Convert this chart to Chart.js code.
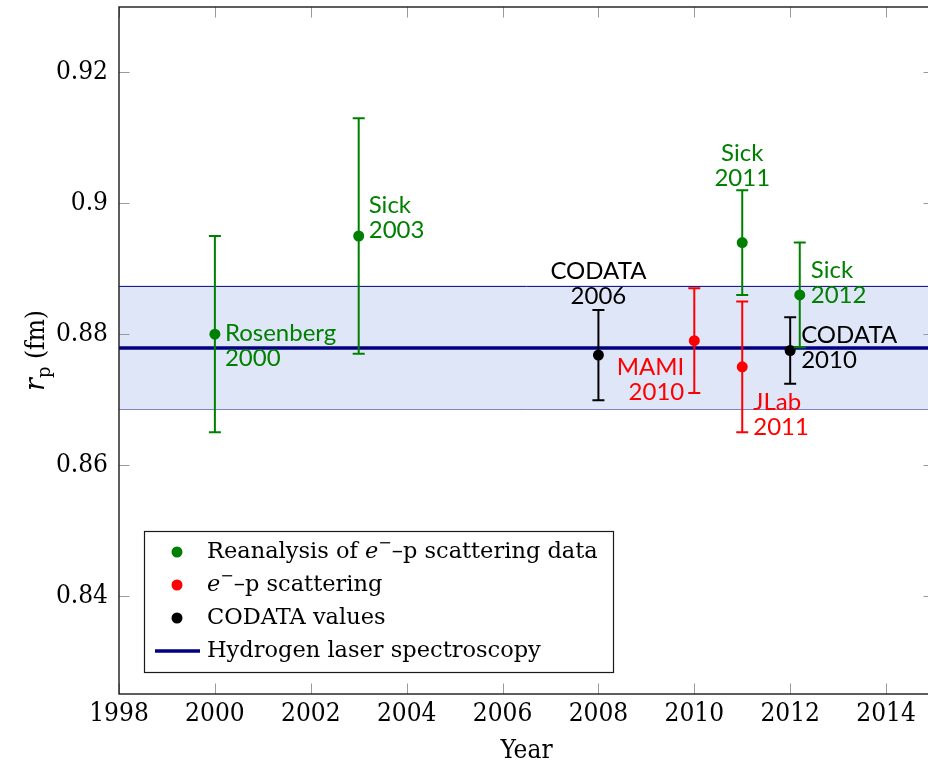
<!DOCTYPE html>
<html>
<head>
<meta charset="utf-8">
<script src="https://cdn.jsdelivr.net/npm/chart.js@4/dist/chart.umd.min.js"></script>
<style>
  html, body { margin: 0; padding: 0; overflow: hidden; background: #fff; }
  canvas { display: block; }
</style>
</head>
<body>
<canvas id="chart" width="940" height="769"></canvas>
<script>
// Axis ticks
const xTicks = [1998, 2000, 2002, 2004, 2006, 2008, 2010, 2012, 2014];
const yTicks = [0.84, 0.86, 0.88, 0.9, 0.92];
const yearRange = [1998, 2015];
const radiusRange = [0.825, 0.93];

// Reanalysis of e-p scattering data
const reanalysisYears = [2000, 2003, 2011, 2012.2];
const reanalysisRadius = [0.880, 0.895, 0.894, 0.886];
const reanalysisError = [0.015, 0.018, 0.008, 0.008];
const reanalysisNames = ['Rosenberg\n2000', 'Sick\n2003', 'Sick\n2011', 'Sick\n2012'];

// e-p scattering experiments
const scatteringYears = [2010, 2011];
const scatteringRadius = [0.879, 0.875];
const scatteringError = [0.008, 0.010];
const scatteringNames = ['MAMI\n2010', 'JLab\n2011'];

// CODATA recommended values
const codataYears = [2008, 2012];
const codataRadius = [0.8768, 0.8775];
const codataError = [0.0069, 0.0051];
const codataNames = ['CODATA\n2006', 'CODATA\n2010'];

// Hydrogen laser spectroscopy
const hydrogenRadius = 0.8779;
const hydrogenError = 0.0094;

// Legend text, split into runs: [text, style]
const legendLabels = [
  [['Reanalysis of ', ''], ['e', 'italic'], ['\u2212', 'sup'], ['\u2013p scattering data', '']],
  [['e', 'italic'], ['\u2212', 'sup'], ['\u2013p scattering', '']],
  [['CODATA values', '']],
  [['Hydrogen laser spectroscopy', '']]
];

// Label placement next to each point: [dx, dy, align]
const reanalysisLabelPos = [[10, -1, 'left'], [10, -31, 'left'], [0, -89, 'center'], [11, -25, 'left']];
const scatteringLabelPos = [[-10, 27, 'right'], [11, 35, 'left']];
const codataLabelPos = [[0, -84, 'center'], [11, -15, 'left']];

const GREEN = '#008000', RED = '#ff0000', BLACK = '#000000', NAVY = '#000080';
const BAND = '#dfe6f8';
const SERIF = '"DejaVu Serif"';
const SERIF_NARROW = '"DejaVu Serif Condensed", "DejaVu Serif"';
const SANS = 'Lato';

const pts = (xs, ys) => xs.map((x, i) => ({ x: x, y: ys[i] }));

function pointSeries(label, xs, ys, errs, names, pos, color) {
  return {
    type: 'scatter', label: label, data: pts(xs, ys),
    errors: errs, names: names, labelPos: pos,
    borderColor: color, backgroundColor: color,
    pointRadius: 5.5, pointBorderWidth: 0, order: 0
  };
}

const datasets = [
  pointSeries('Reanalysis', reanalysisYears, reanalysisRadius, reanalysisError, reanalysisNames, reanalysisLabelPos, GREEN),
  pointSeries('Scattering', scatteringYears, scatteringRadius, scatteringError, scatteringNames, scatteringLabelPos, RED),
  pointSeries('CODATA', codataYears, codataRadius, codataError, codataNames, codataLabelPos, BLACK),
  {
    type: 'line', label: 'Hydrogen', data: yearRange.map(x => ({ x: x, y: hydrogenRadius })),
    borderColor: NAVY, borderWidth: 3.5, pointRadius: 0, fill: false, order: 1
  },
  {
    type: 'line', label: 'band-hi', data: yearRange.map(x => ({ x: x, y: hydrogenRadius + hydrogenError })),
    borderColor: NAVY, borderWidth: 1, pointRadius: 0, fill: '+1', backgroundColor: BAND, order: 2
  },
  {
    type: 'line', label: 'band-lo', data: yearRange.map(x => ({ x: x, y: hydrogenRadius - hydrogenError })),
    borderColor: NAVY, borderWidth: 1, pointRadius: 0, fill: false, order: 2
  }
];

// Error bars under each point series, plus the point labels
const errorBars = {
  id: 'errorBars',
  beforeDatasetDraw(chart, args) {
    const ds = chart.data.datasets[args.index];
    if (!ds.errors) return;
    const { ctx, scales: { x, y } } = chart;
    ctx.save();
    ctx.strokeStyle = ds.borderColor;
    ctx.lineWidth = 2;
    ds.data.forEach((p, i) => {
      const px = x.getPixelForValue(p.x);
      const top = y.getPixelForValue(p.y + ds.errors[i]);
      const bot = y.getPixelForValue(p.y - ds.errors[i]);
      ctx.beginPath();
      ctx.moveTo(px, top); ctx.lineTo(px, bot);
      ctx.moveTo(px - 6, top); ctx.lineTo(px + 6, top);
      ctx.moveTo(px - 6, bot); ctx.lineTo(px + 6, bot);
      ctx.stroke();
    });
    ctx.restore();
  },
  afterDatasetsDraw(chart) {
    const { ctx, scales: { x, y } } = chart;
    ctx.save();
    ctx.font = '24px ' + SANS;
    ctx.textBaseline = 'middle';
    chart.data.datasets.forEach(ds => {
      if (!ds.names) return;
      ds.data.forEach((p, i) => {
        const px = x.getPixelForValue(p.x), py = y.getPixelForValue(p.y);
        const [dx, dy, align] = ds.labelPos[i];
        ctx.fillStyle = ds.borderColor;
        ctx.textAlign = align;
        ds.names[i].split('\n').forEach((line, k) => ctx.fillText(line, px + dx, py + dy + k * 25));
      });
    });
    ctx.restore();
  }
};

// Frame with inward ticks, y-axis title and legend box
const decorations = {
  id: 'decorations',
  afterDraw(chart) {
    const { ctx, chartArea: ca, scales: { x, y } } = chart;
    ctx.save();
    // inward tick marks on all four sides
    ctx.strokeStyle = '#9a9a9a';
    ctx.lineWidth = 1;
    ctx.beginPath();
    xTicks.forEach(v => {
      const px = Math.round(x.getPixelForValue(v)) + 0.5;
      ctx.moveTo(px, ca.bottom); ctx.lineTo(px, ca.bottom - 10.5);
      ctx.moveTo(px, ca.top); ctx.lineTo(px, ca.top + 10.5);
    });
    yTicks.forEach(v => {
      const py = Math.round(y.getPixelForValue(v)) + 0.5;
      ctx.moveTo(ca.left, py); ctx.lineTo(ca.left + 10.5, py);
      ctx.moveTo(ca.right, py); ctx.lineTo(ca.right - 10.5, py);
    });
    ctx.stroke();
    // frame
    ctx.strokeStyle = '#1a1a1a';
    ctx.lineWidth = 1.4;
    ctx.strokeRect(ca.left, ca.top, ca.right - ca.left, ca.bottom - ca.top);

    // y-axis title: r_p (fm)
    ctx.translate(36, (ca.top + ca.bottom) / 2);
    ctx.rotate(-Math.PI / 2);
    ctx.fillStyle = '#000';
    ctx.textBaseline = 'alphabetic';
    ctx.textAlign = 'left';
    const fR = 'italic 27px ' + SERIF, fP = '18px ' + SERIF, fT = '26px ' + SERIF_NARROW;
    ctx.font = fR; const wR = ctx.measureText('r').width;
    ctx.font = fP; const wP = ctx.measureText('p').width;
    ctx.font = fT; const wT = ctx.measureText(' (fm)').width;
    let cx = -(wR + wP + wT) / 2;
    ctx.font = fR; ctx.fillText('r', cx, 8); cx += wR;
    ctx.font = fP; ctx.fillText('p', cx, 14); cx += wP;
    ctx.font = fT; ctx.fillText(' (fm)', cx, 8);
    ctx.setTransform(1, 0, 0, 1, 0, 0);

    // legend
    const lx = 144.5, ly = 531.5, lw = 469, lh = 141;
    ctx.fillStyle = '#fff';
    ctx.fillRect(lx, ly, lw, lh);
    ctx.strokeStyle = '#1a1a1a';
    ctx.lineWidth = 1.2;
    ctx.strokeRect(lx, ly, lw, lh);
    const swatch = [GREEN, RED, BLACK, NAVY];
    legendLabels.forEach((runs, i) => {
      const ey = 552 + i * 33;
      if (i < 3) {
        ctx.fillStyle = swatch[i];
        ctx.beginPath(); ctx.arc(177, ey, 5.5, 0, Math.PI * 2); ctx.fill();
      } else {
        ctx.strokeStyle = NAVY; ctx.lineWidth = 3.5;
        ctx.beginPath(); ctx.moveTo(155, ey); ctx.lineTo(200, ey); ctx.stroke();
      }
      ctx.fillStyle = '#000';
      ctx.textBaseline = 'middle';
      let tx = 207;
      runs.forEach(([t, style]) => {
        let dy = 0;
        if (style === 'italic') ctx.font = 'italic 22.5px ' + SERIF;
        else if (style === 'sup') { ctx.font = '16px ' + SERIF; dy = -8; }
        else ctx.font = '22.5px ' + SERIF;
        ctx.fillText(t, tx, ey + dy);
        tx += ctx.measureText(t).width;
      });
    });
    ctx.restore();
  }
};

new Chart(document.getElementById('chart'), {
  data: { datasets: datasets },
  options: {
    responsive: false,
    animation: false,
    events: [],
    layout: { padding: { top: 7, right: 6, left: 0, bottom: 0 } },
    plugins: { legend: { display: false }, tooltip: { enabled: false } },
    scales: {
      x: {
        type: 'linear', position: 'bottom',
        min: yearRange[0], max: yearRange[1],
        grid: { display: false, drawTicks: false },
        border: { display: false },
        afterBuildTicks: s => { s.ticks = xTicks.map(v => ({ value: v })); },
        afterFit: s => { s.height = 75; s.paddingLeft = 0; s.paddingRight = 0; },
        ticks: {
          maxRotation: 0, autoSkip: false, padding: 5,
          color: '#000', font: { family: SERIF_NARROW, size: 26 },
          callback: v => String(v)
        },
        title: {
          display: true, text: 'Year', color: '#000',
          font: { family: SERIF_NARROW, size: 26 }, padding: { top: 0, bottom: 2 }
        }
      },
      y: {
        type: 'linear', position: 'left',
        min: radiusRange[0], max: radiusRange[1],
        grid: { display: false, drawTicks: false },
        border: { display: false },
        afterBuildTicks: s => { s.ticks = yTicks.map(v => ({ value: v })); },
        afterFit: s => { s.width = 119; s.paddingTop = 0; s.paddingBottom = 0; },
        ticks: {
          padding: 11, autoSkip: false,
          color: '#000', font: { family: SERIF_NARROW, size: 26 },
          callback: v => String(v)
        }
      }
    }
  },
  plugins: [errorBars, decorations]
});
</script>
</body>
</html>
